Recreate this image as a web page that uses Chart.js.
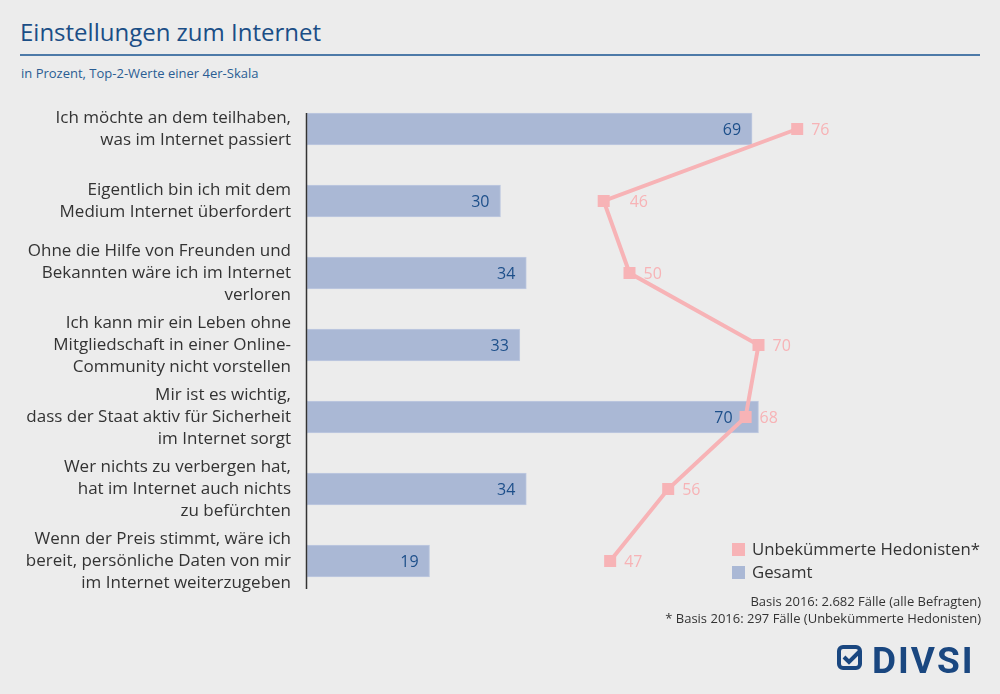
<!DOCTYPE html>
<html lang="de">
<head>
<meta charset="UTF-8">
<title>Einstellungen zum Internet</title>
<script src="https://cdn.jsdelivr.net/npm/chart.js"></script>
<style>
    html, body { margin: 0; padding: 0; }
    body { width: 1000px; height: 694px; background: #ececec; position: relative; overflow: hidden; font-family: "Open Sans", sans-serif; }
    .title { position: absolute; left: 20px; top: 15px; font-size: 24px; color: #1b4e86; }
    .rule { position: absolute; left: 20px; top: 54px; width: 960px; height: 2px; background: #4d7aa8; }
    .subtitle { position: absolute; left: 21px; top: 64px; font-size: 13px; color: #2a5d93; }
    .chart { position: absolute; left: 0; top: 0; width: 1000px; height: 694px; }
    .legend { position: absolute; left: 732px; top: 537px; font-size: 16.8px; color: #333; }
    .legend div { height: 23px; line-height: 23px; }
    .legend span { display: inline-block; width: 13px; height: 13px; margin-right: 7px; vertical-align: -1px; }
    .notes { position: absolute; right: 19px; top: 593px; font-size: 13px; color: #333; text-align: right; line-height: 17px; }
    .logo { position: absolute; left: 836px; top: 642px; }
</style>
</head>
<body>
    <div class="title">Einstellungen zum Internet</div>
    <div class="rule"></div>
    <div class="subtitle">in Prozent, Top-2-Werte einer 4er-Skala</div>

    <div class="chart"><canvas id="myChart" width="1000" height="694"></canvas></div>

    <div class="legend">
        <div><span style="background:#f7b3b6"></span>Unbekümmerte Hedonisten*</div>
        <div><span style="background:#aab8d5"></span>Gesamt</div>
    </div>

    <div class="notes">
        Basis 2016: 2.682 Fälle (alle Befragten)<br>
        * Basis 2016: 297 Fälle (Unbekümmerte Hedonisten)
    </div>

    <div class="logo">
        <svg width="135" height="34" viewBox="0 0 135 34">
            <rect x="3" y="5" width="21" height="21" rx="4" fill="none" stroke="#1a4780" stroke-width="4"/>
            <path d="M8 15 L13 20 L24 9" fill="none" stroke="#1a4780" stroke-width="4"/>
            <text x="36" y="31" font-family="Roboto, sans-serif" font-weight="bold" font-size="37" fill="#1a4780" letter-spacing="2">DIVSI</text>
        </svg>
    </div>

<script>
    const labels = [
        ["Ich möchte an dem teilhaben,", "was im Internet passiert"],
        ["Eigentlich bin ich mit dem", "Medium Internet überfordert"],
        ["Ohne die Hilfe von Freunden und", "Bekannten wäre ich im Internet", "verloren"],
        ["Ich kann mir ein Leben ohne", "Mitgliedschaft in einer Online-", "Community nicht vorstellen"],
        ["Mir ist es wichtig,", "dass der Staat aktiv für Sicherheit", "im Internet sorgt"],
        ["Wer nichts zu verbergen hat,", "hat im Internet auch nichts", "zu befürchten"],
        ["Wenn der Preis stimmt, wäre ich", "bereit, persönliche Daten von mir", "im Internet weiterzugeben"]
    ]
    const gesamt = [69, 30, 34, 33, 70, 34, 19]
    const hedonisten = [76, 46, 50, 70, 68, 56, 47]

    const rosa = '#f7b3b6'
    const blau = '#aab8d5'
    const schrift = '"Open Sans", sans-serif'

    // achse links und werte an den balken / punkten
    const werteLabels = {
        id: 'werteLabels',
        afterDatasetsDraw(chart) {
            const ctx = chart.ctx
            const area = chart.chartArea
            const balken = chart.getDatasetMeta(0).data
            const punkte = chart.getDatasetMeta(1).data
            ctx.save()
            ctx.strokeStyle = '#333'
            ctx.lineWidth = 1.5
            ctx.beginPath()
            ctx.moveTo(area.left - 0.5, area.top + 20)
            ctx.lineTo(area.left - 0.5, area.bottom - 8)
            ctx.stroke()

            ctx.font = '16px ' + schrift
            ctx.textBaseline = 'middle'
            balken.forEach((bar, i) => {
                let rechts = bar.x - 11
                // marker sitzt auf dem balkenende -> zahl weiter nach links
                if (Math.abs(punkte[i].x - bar.x) < 20) rechts = Math.min(rechts, punkte[i].x - 13)
                ctx.fillStyle = '#1d4f8a'
                ctx.textAlign = 'right'
                ctx.fillText(gesamt[i], rechts, bar.y + 1)
            })
            punkte.forEach((pt, i) => {
                let abstand = 14
                // flache linie von rechts oben -> zahl etwas weiter weg
                if (i > 0 && punkte[i - 1].x - pt.x > 80) abstand = 26
                ctx.fillStyle = rosa
                ctx.textAlign = 'left'
                ctx.fillText(hedonisten[i], pt.x + abstand, pt.y + 1)
            })
            ctx.restore()
        }
    }

    const data = {
        labels: labels,
        datasets: [
            {
                type: 'bar',
                label: 'Gesamt',
                data: gesamt,
                backgroundColor: blau,
                borderColor: '#bfcae0',
                borderWidth: 1,
                borderSkipped: false,
                barThickness: 32,
                order: 2
            },
            {
                type: 'line',
                label: 'Unbekümmerte Hedonisten*',
                data: hedonisten,
                indexAxis: 'y',
                borderColor: rosa,
                backgroundColor: rosa,
                borderWidth: 4,
                pointStyle: 'rect',
                pointRadius: 8.5,
                pointHoverRadius: 8.5,
                pointBorderWidth: 0,
                tension: 0,
                order: 1
            }
        ]
    }

    const config = {
        data: data,
        options: {
            indexAxis: 'y',
            responsive: false,
            animation: false,
            layout: {
                padding: { left: 0, right: 48, top: 93, bottom: 97 }
            },
            scales: {
                x: {
                    display: false,
                    min: 0,
                    max: 100
                },
                y: {
                    afterFit(scale) { scale.width = 307 },
                    grid: { display: false, drawTicks: false },
                    border: { display: false },
                    ticks: {
                        color: '#333',
                        padding: 16,
                        font: { family: schrift, size: 17, lineHeight: 1.3 }
                    }
                }
            },
            plugins: {
                legend: { display: false },
                tooltip: { enabled: false }
            }
        },
        plugins: [werteLabels]
    }

    const myChart = new Chart(document.getElementById('myChart'), config)
</script>
</body>
</html>
